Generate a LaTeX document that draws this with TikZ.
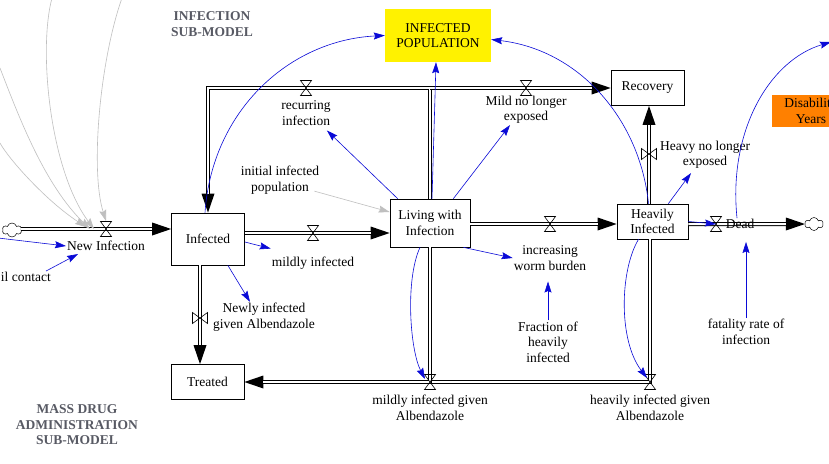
\documentclass[tikz,border=0pt]{standalone}
\usepackage{fontspec}
\setmainfont{Liberation Serif}
\usetikzlibrary{positioning, arrows.meta, shapes.symbols}

\definecolor{linkblue}{RGB}{10,10,215}
\definecolor{titlegray}{RGB}{88,90,100}
\definecolor{disorange}{RGB}{255,128,0}

\tikzset{
  pics/valveh/.style={code={\draw[line width=0.6pt] (-5.5,-7.5) -- (5.5,-7.5) -- (-5.5,7.5) -- (5.5,7.5) -- cycle;}},
  pics/valvev/.style={code={\draw[line width=0.6pt] (-7.5,-5.5) -- (-7.5,5.5) -- (7.5,-5.5) -- (7.5,5.5) -- cycle;}}
}

\begin{document}
\begin{tikzpicture}[x=1pt, y=-1pt,
    font=\fontsize{13.5}{15.5}\selectfont,
    stock/.style={draw, line width=0.7pt, align=center, inner sep=1pt},
    lbl/.style={align=center, inner sep=1pt},
    modeltitle/.style={align=center, font=\fontsize{13.5}{15.5}\selectfont\bfseries, text=titlegray},
    pipe/.style={draw=black, line width=4pt, postaction={draw=white, line width=2pt}},
    pipetip/.style={draw=black, line width=4pt, -{Triangle[length=19pt, width=13pt, line width=0pt 0 0]},
      postaction={draw=white, line width=2pt, -, shorten >=19pt}},
    link/.style={draw=linkblue, line width=0.6pt, -{Stealth[length=11pt,width=7pt,inset=1.5pt]}},
    glink/.style={draw=gray!50, line width=0.6pt, -{Stealth[length=11pt,width=7pt,inset=1.5pt]}},
    cloudy/.style={cloud, cloud puffs=6, draw, line width=0.5pt, fill=white, inner sep=0pt}]

  \useasboundingbox (0,0) rectangle (829,463);
  \fill[white] (0,0) rectangle (829,463);
  \clip (0,0) rectangle (829,463);

  % stocks and other boxes
  \node[stock, minimum width=73pt, minimum height=52pt] (infected) at (208,239) {Infected};
  \node[stock, minimum width=80pt, minimum height=48pt] (living) at (430,223) {Living with\\Infection};
  \node[stock, minimum width=71pt, minimum height=35pt] (heavily) at (652.5,221.5) {Heavily\\Infected};
  \node[stock, minimum width=73pt, minimum height=35pt] (recovery) at (647.5,88) {Recovery};
  \node[stock, minimum width=73pt, minimum height=35pt] (treated) at (207.5,382) {Treated};
  \node[fill=yellow, align=center, minimum width=106pt, minimum height=53pt] (infpop) at (438,35.5) {INFECTED\\POPULATION};
  \node[fill=disorange, align=center, minimum width=78pt, minimum height=32pt] (disab) at (811,111) {Disability\\Years};

  \node[cloudy, minimum width=19pt, minimum height=14pt] (cloudL) at (12,230) {};
  \node[cloudy, minimum width=18pt, minimum height=13pt] (cloudR) at (814,224) {};

  % valves
  \coordinate (vNew) at (106,229);
  \coordinate (vMild) at (313,233);
  \coordinate (vRec) at (306,88);
  \coordinate (vMildNo) at (526,88);
  \coordinate (vNewly) at (200,318);
  \coordinate (vMildAlb) at (430,382);
  \coordinate (vHeavyAlb) at (650,382);
  \coordinate (vWorm) at (550,224);
  \coordinate (vHeavyNo) at (649,154);
  \coordinate (vDead) at (716,224);
  \coordinate (cTopL) at (208,88);
  \coordinate (cTopR) at (430,88);

  % flows
  \path[pipetip] (cloudL.east |- vNew) -- (infected.west |- vNew);
  \path[pipetip] (infected.east |- vMild) -- (living.west |- vMild);
  \path[pipetip] (living.north) -- (cTopR) -- (vRec) -- (cTopL) -- (infected.north);
  \path[pipetip] (cTopR) -- (vMildNo) -- (recovery.west);
  \path[pipetip] (infected.south -| vNewly) -- (treated.north -| vNewly);
  \path[pipe] (heavily.south -| vHeavyAlb) -- (vHeavyAlb) -- (vMildAlb);
  \path[pipetip] (living.south) -- (vMildAlb) -- (treated.east);
  \path[pipetip] (living.east |- vWorm) -- (heavily.west |- vWorm);
  \path[pipetip] (heavily.north -| vHeavyNo) -- (recovery.south -| vHeavyNo);
  \path[pipetip] (heavily.east |- vDead) -- (cloudR.west);

  \foreach \v in {vNew, vMild, vRec, vMildNo, vMildAlb, vHeavyAlb, vWorm, vDead}
    \pic at (\v) {valveh};
  \foreach \v in {vNewly, vHeavyNo}
    \pic at (\v) {valvev};

  % labels
  \node[modeltitle] (subinf) at (212,24) {INFECTION\\SUB-MODEL};
  \node[modeltitle] (submda) at (77,425) {MASS DRUG\\ADMINISTRATION\\SUB-MODEL};
  \node[lbl] (newinf) at (106,246) {New Infection};
  \node[lbl, anchor=east] (ilcontact) at (52,277) {il contact};
  \node[lbl] (recur) at (306,113) {recurring\\infection};
  \node[lbl] (mildno) at (526,110) {Mild no longer\\exposed};
  \node[lbl] (initpop) at (280,180) {initial infected\\population};
  \node[lbl] (mildinf) at (313,263) {mildly infected};
  \node[lbl] (newly) at (264,317) {Newly infected\\given Albendazole};
  \node[lbl] (worm) at (550,258) {increasing\\worm burden};
  \node[lbl] (frac) at (548,342) {Fraction of\\heavily\\infected};
  \node[lbl] (mildalb) at (430,408) {mildly infected given\\Albendazole};
  \node[lbl] (heavyalb) at (650,408) {heavily infected given\\Albendazole};
  \node[lbl] (heavyno) at (705,155) {Heavy no longer\\exposed};
  \node[lbl] (dead) at (740,224) {Dead};
  \node[lbl] (fatal) at (746,332) {fatality rate of\\infection};

  % gray links from outside the picture
  \coordinate (g1) at (0,143);
  \coordinate (g2) at (0,68);
  \coordinate (g3) at (52,-2);
  \coordinate (g4) at (122,-2);
  \draw[glink] (g1) .. controls (8,158) and (45,200) .. ([xshift=-20pt,yshift=2pt]vNew);
  \draw[glink] (g2) .. controls (20,120) and (45,185) .. ([xshift=-16pt]vNew);
  \draw[glink] (g3) .. controls (38,50) and (50,170) .. ([xshift=-12pt]vNew);
  \draw[glink] (g4) .. controls (100,60) and (90,170) .. ([yshift=8pt]vNew);
  \draw[glink] ([xshift=-6pt,yshift=4pt]initpop.south east) -- ([yshift=11pt]living.west);

  % blue links
  \coordinate (lnkL) at (-2,238);
  \coordinate (disabtop) at (831,42);
  \draw[link] (lnkL) -- (newinf.west);
  \draw[link] ([xshift=-6pt]ilcontact.north east) -- ([xshift=12pt,yshift=-2pt]newinf.south west);
  \draw[link] ([yshift=-3pt]infected.east) -- ([yshift=7pt]mildinf.north west);
  \draw[link] ([xshift=-17pt]infected.south east) -- ([xshift=-14pt]newly.north);
  \draw[link] ([xshift=-3pt]infected.north) .. controls (212,110) and (290,40) .. (infpop.west);
  \draw[link] ([xshift=-4pt]heavily.north) .. controls (640,120) and (580,50) .. ([yshift=-4pt]infpop.east);
  \draw[link] ([xshift=2pt]living.north) -- ([xshift=-2pt]infpop.south);
  \draw[link] ([xshift=8pt]living.north west) -- ([xshift=-5pt,yshift=-4pt]recur.south east);
  \draw[link] ([xshift=-17pt]living.north east) -- ([xshift=-16pt]mildno.south);
  \draw[link] ([xshift=-7pt]living.south east) -- (worm.west);
  \draw[link] ([xshift=-10pt]living.south) .. controls (405,280) and (410,350) .. ([xshift=-5pt,yshift=3pt]vMildAlb);
  \draw[link] (frac.north) -- ([xshift=-2pt,yshift=-10pt]worm.south);
  \draw[link] ([xshift=-20pt]heavily.north east) -- ([xshift=-14pt,yshift=-3pt]heavyno.south);
  \draw[link] ([xshift=-14pt]heavily.south) .. controls (620,270) and (618,340) .. ([xshift=-3pt,yshift=4pt]vHeavyAlb);
  \draw[link] (heavily.east) -- (vDead);
  \draw[link] (fatal.north) -- ([xshift=6pt,yshift=-12pt]dead.south);
  \draw[link] ([xshift=-3pt]dead.north) .. controls (728,130) and (770,60) .. (disabtop);
\end{tikzpicture}
\end{document}
